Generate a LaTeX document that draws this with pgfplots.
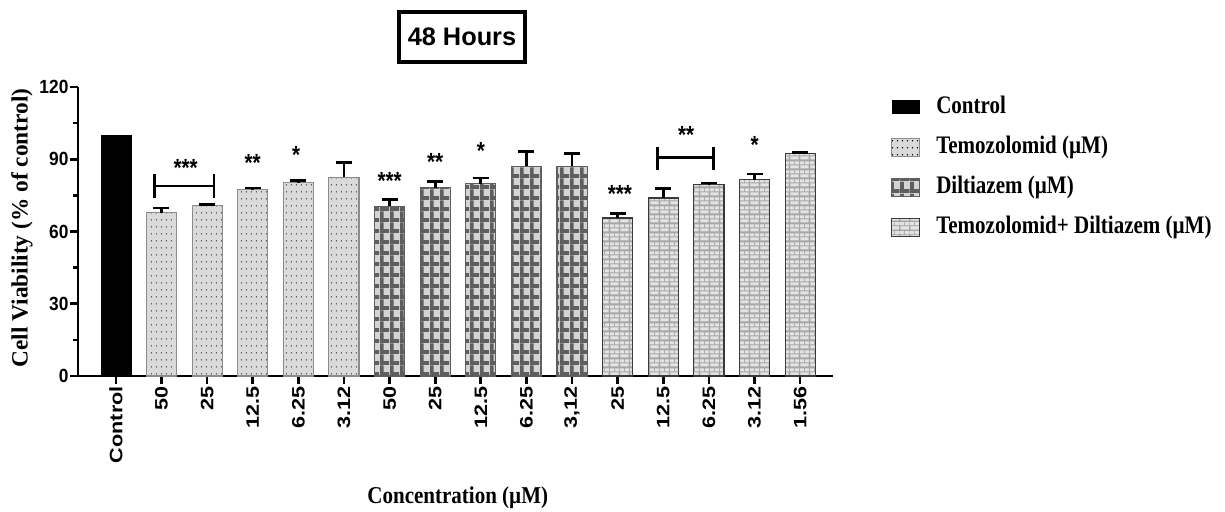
\documentclass[border=0pt]{standalone}
\usepackage{graphicx}
\usepackage{fontspec}
\setmainfont{Liberation Serif}
\newfontfamily\arial{Liberation Sans}
\usepackage{pgfplots}
\pgfplotsset{compat=1.18}
\usetikzlibrary{patterns}

\definecolor{tfill}{HTML}{DADADA}
\definecolor{tborder}{HTML}{8C8C8C}
\definecolor{dfill}{HTML}{D4D4D4}
\definecolor{dline}{HTML}{5E5E5E}
\definecolor{bfill}{HTML}{A6A6A6}
\definecolor{brick}{HTML}{E4E4E4}
\definecolor{bborder}{HTML}{3A3A3A}

\pgfdeclarepatternformonly{mytdots}{\pgfpointorigin}{\pgfpoint{4pt}{5.3pt}}{\pgfpoint{4pt}{5.3pt}}{%
  \pgfpathcircle{\pgfpoint{2pt}{2.65pt}}{0.5pt}\pgfusepath{fill}}
\pgfdeclarepatternformonly{mydgrid}{\pgfpointorigin}{\pgfpoint{7.5pt}{8.5pt}}{\pgfpoint{7.5pt}{8.5pt}}{%
  \pgfpathrectangle{\pgfpointorigin}{\pgfpoint{7.5pt}{3pt}}%
  \pgfpathrectangle{\pgfpointorigin}{\pgfpoint{3pt}{8.5pt}}%
  \pgfusepath{fill}}
\pgfdeclarepatternformonly{mybricks}{\pgfpointorigin}{\pgfpoint{7.5pt}{6.8pt}}{\pgfpoint{7.5pt}{6.8pt}}{%
  \pgfpathrectangle{\pgfpoint{0.4pt}{0.5pt}}{\pgfpoint{6.7pt}{2.4pt}}%
  \pgfpathrectangle{\pgfpoint{4.15pt}{3.9pt}}{\pgfpoint{3.35pt}{2.4pt}}%
  \pgfpathrectangle{\pgfpoint{0pt}{3.9pt}}{\pgfpoint{3.35pt}{2.4pt}}%
  \pgfusepath{fill}}

\newcommand\vs[2][1.2]{\scalebox{1}[#1]{#2}}
\newcommand\hs[2][1.2]{\scalebox{#1}[1]{#2}}

\begin{document}
\begin{tikzpicture}
\useasboundingbox (-58.5pt,-101.25pt) rectangle (860.25pt,282pt);
\begin{axis}[
  at={(0,0)}, anchor=south west,
  scale only axis, width=566.25pt, height=216.75pt,
  xmin=-0.83, xmax=15.72, ymin=0, ymax=120,
  clip=false,
  axis x line=bottom, axis y line=left,
  axis line style={line width=2pt,-},
  every tick/.style={line width=2pt,black},
  tick align=outside,
  major tick length=6pt, minor tick length=4pt,
  ybar, bar width=0.66, bar shift=0pt,
  xtick={0,...,15},
  xticklabels={{\hs{Control}},{\hs{50}},{\hs{25}},{\hs{12.5}},{\hs{6.25}},{\hs{3.12}},{\hs{50}},{\hs{25}},{\hs{12.5}},{\hs{6.25}},{\hs{3,12}},{\hs{25}},{\hs{12.5}},{\hs{6.25}},{\hs{3.12}},{\hs{1.56}}},
  xticklabel style={rotate=90, anchor=east, font=\arial\bfseries\fontsize{13.5}{15}\selectfont, inner sep=1.5pt},
  ytick={0,30,60,90,120},
  yticklabels={{\vs[1.1]{0}},{\vs[1.1]{30}},{\vs[1.1]{60}},{\vs[1.1]{90}},{\vs[1.1]{120}}},
  minor ytick={15,45,75,105},
  yticklabel style={font=\arial\bfseries\fontsize{13}{14}\selectfont, inner sep=1pt},
  ylabel={Cell Viability (\% of control)},
  ylabel style={at={(axis description cs:-0.0596,0.512)}, anchor=south, font=\bfseries\fontsize{17.5}{19}\selectfont, inner sep=0pt},
  xlabel={\vs[1.15]{Concentration (µM)}},
  xlabel style={at={(axis description cs:0.503,-0.42)}, anchor=center, font=\bfseries\fontsize{15.75}{17}\selectfont},
  legend style={at={(axis description cs:1.0768,0.97)}, anchor=north west, draw=none, fill=none,
    inner sep=0pt, row sep=13pt, column sep=12pt,
    font=\bfseries\fontsize{15.75}{17}\selectfont,
    nodes={inner sep=0pt, text height=13pt, text depth=4pt, anchor=west}},
  legend cell align=left,
  error bars/y dir=plus, error bars/y explicit,
  error bars/error bar style={line width=2pt, black, solid},
  error bars/error mark options={line width=2pt, black, mark size=6pt, rotate=90},
]
\addplot[fill=black, draw=black,
  legend image code/.code={\draw[fill=black,draw=none] (0pt,-5.25pt) rectangle (21pt,5.25pt);}]
  coordinates {(0,100)};
\addlegendentry{\vs{Control}}

\addplot[fill=tfill, draw=tborder, line width=0.8pt, postaction={pattern=mytdots, pattern color=black},
  legend image code/.code={\draw[fill=tfill,draw=none,postaction={pattern=mytdots, pattern color=black}] (0pt,-6.75pt) rectangle (21pt,6.75pt);}]
  coordinates {(1,67.7) +- (0,2.1) (2,70.8) +- (0,0.5) (3,77.3) +- (0,0.7) (4,80.3) +- (0,0.8) (5,82.6) +- (0,6.0)};
\addlegendentry{\vs{Temozolomid (µM)}}

\addplot[fill=dfill, draw=dline, line width=0.8pt, postaction={pattern=mydgrid, pattern color=dline},
  legend image code/.code={\draw[fill=dfill,draw=none,postaction={pattern=mydgrid, pattern color=dline}] (0pt,-6.75pt) rectangle (21pt,6.75pt);}]
  coordinates {(6,70.4) +- (0,3.0) (7,78.2) +- (0,2.5) (8,79.8) +- (0,2.4) (9,87.1) +- (0,6.0) (10,87.1) +- (0,5.4)};
\addlegendentry{\vs{Diltiazem (µM)}}

\addplot[fill=bfill, draw=bborder, line width=0.8pt, postaction={pattern=mybricks, pattern color=brick},
  legend image code/.code={\draw[fill=bfill,draw=none,postaction={pattern=mybricks, pattern color=brick}] (0pt,-6.75pt) rectangle (21pt,6.75pt);}]
  coordinates {(11,65.6) +- (0,1.8) (12,73.9) +- (0,3.9) (13,79.4) +- (0,0.8) (14,81.4) +- (0,2.5) (15,92.2) +- (0,0.7)};
\addlegendentry{\vs{Temozolomid+ Diltiazem (µM)}}

% significance brackets
\draw[line width=2pt] (axis cs:0.84,83.9) -- (axis cs:0.84,73.8);
\draw[line width=2pt] (axis cs:2.15,83.9) -- (axis cs:2.15,73.8);
\draw[line width=2pt] (axis cs:0.84,78.9) -- (axis cs:2.15,78.9);
\draw[line width=2pt] (axis cs:11.87,95.2) -- (axis cs:11.87,85.5);
\draw[line width=2pt] (axis cs:13.1,95.2) -- (axis cs:13.1,85.5);
\draw[line width=2pt] (axis cs:11.87,90.7) -- (axis cs:13.1,90.7);

\begin{scope}[every node/.style={font=\arial\bfseries\fontsize{15.5}{17}\selectfont, anchor=north, inner sep=0pt}]
\node at (axis cs:1.53,90.0) {\vs{***}};
\node at (axis cs:3,92.2) {\vs{**}};
\node at (axis cs:3.95,95.5) {\vs{*}};
\node at (axis cs:6,84.8) {\vs{***}};
\node at (axis cs:7,92.5) {\vs{**}};
\node at (axis cs:8,96.9) {\vs{*}};
\node at (axis cs:11.05,79.3) {\vs{***}};
\node at (axis cs:12.5,103.9) {\vs{**}};
\node at (axis cs:14,99.7) {\vs{*}};
\end{scope}

\node[draw=black, line width=3pt, minimum width=94.5pt, minimum height=37.5pt, inner sep=0pt,
  font=\arial\bfseries\fontsize{19}{21}\selectfont] at (axis description cs:0.5086,1.173) {48 Hours};
\end{axis}
\end{tikzpicture}
\end{document}
